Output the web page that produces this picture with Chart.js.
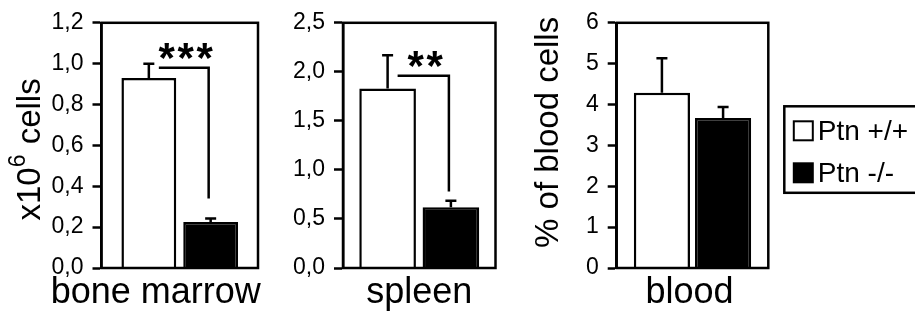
<!DOCTYPE html>
<html>
<head>
<meta charset="utf-8">
<script src="https://cdn.jsdelivr.net/npm/chart.js@4.4.1/dist/chart.umd.min.js"></script>
<style>
  html, body { margin: 0; padding: 0; background: #fff; }
  #wrap { position: relative; width: 915px; height: 320px; overflow: hidden; }
  .panel { position: absolute; top: 0; height: 320px; }
</style>
</head>
<body>
<div id="wrap">
  <div class="panel" style="left:0;width:290px"><canvas id="c0"></canvas></div>
  <div class="panel" style="left:290px;width:225px"><canvas id="c1"></canvas></div>
  <div class="panel" style="left:515px;width:400px"><canvas id="c2"></canvas></div>
</div>
<script>
const groups = ['Ptn +/+', 'Ptn -/-'];
const tissues = ['bone marrow', 'spleen', 'blood'];
// y titles: [main, superscript, rest]
const yTitles = [['x10', '6', ' cells'], null, ['% of blood cells', '', '']];
const wtMean = [0.93, 1.83, 4.29];
const wtErr = [0.07, 0.34, 0.84];
const koMean = [0.225, 0.62, 3.67];
const koErr = [0.017, 0.065, 0.27];
const yMax = [1.2, 2.5, 6];
const tickLabels = [
  ['0,0', '0,2', '0,4', '0,6', '0,8', '1,0', '1,2'],
  ['0,0', '0,5', '1,0', '1,5', '2,0', '2,5'],
  ['0', '1', '2', '3', '4', '5', '6']
];
const stars = ['***', '**', ''];
const bracketTop = [0.98, 1.96, null];
const bracketBottom = [0.34, 0.78, null];

const FONT = '"Liberation Sans", Arial, Helvetica, sans-serif';

// per panel sizing (pixels / percentages only)
const look = [
  {axisW: 101.5, padRight: 32, padTop: 20.5, cat: 0.79, bar: 0.887, labelShift: -24, titleX: 31, titleDy: 4},
  {axisW: 53, padRight: 19.5, padTop: 20, cat: 0.83, bar: 0.895, labelShift: 0},
  {axisW: 101.7, padRight: 146.7, padTop: 20, cat: 0.807, bar: 0.918, labelShift: -3, titleX: 33.5, titleDy: -13}
];

const extras = {
  id: 'extras',
  afterDatasetsDraw(chart, args, opts) {
    const p = opts.panel;
    const L = look[p];
    const {ctx, chartArea: a} = chart;
    const y = chart.scales.y;
    ctx.save();
    ctx.strokeStyle = '#000';
    ctx.fillStyle = '#000';
    ctx.lineWidth = 2.5;

    // error bars (upper only)
    const means = [wtMean[p], koMean[p]];
    const errs = [wtErr[p], koErr[p]];
    const xs = [];
    chart.data.datasets.forEach((ds, d) => {
      const bar = chart.getDatasetMeta(d).data[0];
      xs.push(bar.x);
      const yTop = y.getPixelForValue(means[d] + errs[d]);
      ctx.beginPath();
      ctx.moveTo(bar.x, bar.y);
      ctx.lineTo(bar.x, yTop);
      ctx.moveTo(bar.x - 5.5, yTop);
      ctx.lineTo(bar.x + 5.5, yTop);
      ctx.stroke();
    });

    // box around plot
    ctx.strokeRect(a.left, a.top, a.right - a.left, a.bottom - a.top);

    // significance bracket
    if (stars[p]) {
      const yb = y.getPixelForValue(bracketTop[p]);
      const yl = y.getPixelForValue(bracketBottom[p]);
      const x0 = xs[0] + 10, x1 = xs[1] - 2;
      ctx.beginPath();
      ctx.moveTo(x0, yb);
      ctx.lineTo(x1, yb);
      ctx.lineTo(x1, yl);
      ctx.stroke();
      ctx.font = 'bold 42px ' + FONT;
      ctx.textAlign = 'center';
      ctx.textBaseline = 'alphabetic';
      const n = stars[p].length, cx = (x0 + x1) / 2 + 2;
      for (let k = 0; k < n; k++) {
        ctx.fillText(stars[p][k], cx + (k - (n - 1) / 2) * 19, yb + 4);
      }
    }

    // rotated y title with superscript
    const t = yTitles[p];
    if (t) {
      const big = '33px ' + FONT, small = '23px ' + FONT;
      ctx.font = big;
      const w1 = ctx.measureText(t[0]).width, w3 = ctx.measureText(t[2]).width;
      ctx.font = small;
      const w2 = t[1] ? ctx.measureText(t[1]).width + 1 : 0;
      const total = w1 + w2 + w3;
      ctx.translate(L.titleX, (a.top + a.bottom) / 2 + L.titleDy);
      ctx.rotate(-Math.PI / 2);
      ctx.textAlign = 'left';
      ctx.textBaseline = 'middle';
      let x = -total / 2;
      ctx.font = big;
      ctx.fillText(t[0], x, 0);
      x += w1;
      if (t[1]) {
        ctx.font = small;
        ctx.fillText(t[1], x, -12);
        x += w2;
      }
      ctx.font = big;
      ctx.fillText(t[2], x, 0);
      ctx.setTransform(1, 0, 0, 1, 0, 0);
    }

    // legend
    if (opts.legend) {
      ctx.lineWidth = 2.5;
      const bl = a.right + 16, bt = a.top + 83.5, bb = a.top + 170;
      ctx.strokeRect(bl, bt, chart.width + 10 - bl, bb - bt);
      ctx.font = '28px ' + FONT;
      ctx.textAlign = 'left';
      ctx.textBaseline = 'alphabetic';
      chart.data.datasets.forEach((ds, d) => {
        const bx = a.right + 25.5, by = a.top + 98.5 + d * 42;
        ctx.fillStyle = ds.backgroundColor;
        ctx.fillRect(bx, by, 19, 19);
        ctx.lineWidth = 2;
        ctx.strokeRect(bx, by, 19, 19);
        ctx.fillStyle = '#000';
        ctx.fillText(ds.label, bx + 24, by + 19);
      });
    }
    ctx.restore();
  }
};

function makePanel(p) {
  const L = look[p];
  const step = yMax[p] / (tickLabels[p].length - 1);
  new Chart(document.getElementById('c' + p), {
    type: 'bar',
    data: {
      labels: [tissues[p]],
      datasets: [
        {label: groups[0], data: [wtMean[p]], backgroundColor: '#ffffff', borderColor: '#000', borderWidth: 2.5},
        {label: groups[1], data: [koMean[p]], backgroundColor: '#000000', borderColor: '#000', borderWidth: 2.5}
      ]
    },
    options: {
      responsive: true,
      maintainAspectRatio: false,
      animation: false,
      categoryPercentage: L.cat,
      barPercentage: L.bar,
      layout: {padding: {left: 0, top: L.padTop, right: L.padRight, bottom: 0}},
      plugins: {
        legend: {display: false},
        tooltip: {enabled: false},
        extras: {panel: p, legend: p === 2}
      },
      scales: {
        x: {
          ticks: {
            color: '#000',
            font: {family: FONT, size: 36},
            padding: 3,
            maxRotation: 0,
            autoSkip: false,
            labelOffset: L.labelShift
          },
          grid: {display: false, drawTicks: false},
          border: {display: false},
          afterFit: s => {
            s.height = 52;
            // wide category names may overhang the plot box
            s.paddingLeft = 0;
            s.paddingRight = 0;
          }
        },
        y: {
          min: 0,
          max: yMax[p],
          ticks: {
            stepSize: step,
            color: '#000',
            padding: 9,
            font: {family: FONT, size: 23},
            callback: (v, i) => tickLabels[p][i]
          },
          grid: {drawOnChartArea: false, drawTicks: true, tickLength: 9, tickWidth: 2.5, tickColor: '#000'},
          border: {display: true, color: '#000', width: 2.5},
          afterFit: s => { s.width = L.axisW; }
        }
      }
    },
    plugins: [extras]
  });
}

document.addEventListener('DOMContentLoaded', function () {
  for (let p = 0; p < 3; p++) makePanel(p);
});
</script>
</body>
</html>
